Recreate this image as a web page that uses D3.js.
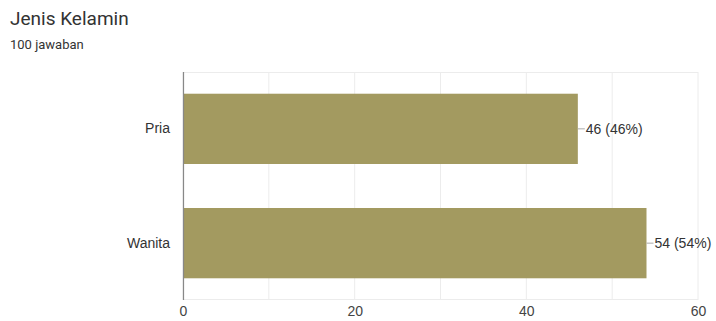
<!DOCTYPE html>
<html><head><meta charset="utf-8">
<script src="https://cdn.jsdelivr.net/npm/d3@7"></script>
<style>body{margin:0;background:#fff;font-family:Roboto,Arial,sans-serif;}</style>
</head><body>
<svg id="c" width="716" height="321"></svg>
<script>
const categories = ["Pria", "Wanita"];
const values = [46, 54];
const percents = ["46%", "54%"];
const xTicks = [0, 20, 40, 60];
const gridTicks = [0, 10, 20, 30, 40, 50, 60];

const LF = "'Liberation Sans',Arial,sans-serif";
const svg = d3.select("#c");
const m = {l: 183, r: 18, t: 72, b: 21};
const W = 716, H = 321;
const x = d3.scaleLinear().domain([0, 60]).range([m.l, W - m.r]);
const y = d3.scaleBand().domain(categories).range([m.t, H - m.b]).paddingInner(0.385).paddingOuter(0.19);

svg.append("text").attr("x", 10).attr("y", 25).attr("font-size", 19).attr("fill", "#333").text("Jenis Kelamin");
svg.append("text").attr("x", 10).attr("y", 49).attr("font-size", 13).attr("fill", "#333").text("100 jawaban");

// grid
svg.append("g").selectAll("line").data(gridTicks).join("line")
  .attr("x1", d => x(d)).attr("x2", d => x(d)).attr("y1", m.t).attr("y2", H - m.b)
  .attr("stroke", "#ececec").attr("stroke-width", 1);
svg.append("line").attr("x1", m.l).attr("x2", W - m.r).attr("y1", m.t + 0.5).attr("y2", m.t + 0.5).attr("stroke", "#ececec");
svg.append("line").attr("x1", m.l).attr("x2", W - m.r).attr("y1", H - m.b - 0.5).attr("y2", H - m.b - 0.5).attr("stroke", "#ececec");

// x axis labels
const xAxis = d3.axisBottom(x).tickValues(xTicks).tickSize(0).tickPadding(6);
const gx = svg.append("g").attr("transform", `translate(0,${H - m.b})`).call(xAxis);
gx.select(".domain").remove();
gx.selectAll("text").attr("font-size", 14).attr("fill", "#444").attr("font-family", LF);

// bars
svg.append("g").selectAll("rect").data(values).join("rect")
  .attr("x", x(0)).attr("y", (d, i) => y(categories[i]))
  .attr("width", d => x(d) - x(0)).attr("height", y.bandwidth())
  .attr("fill", "#a39a60");

// y axis
const yAxis = d3.axisLeft(y).tickSize(0).tickPadding(13);
const gy = svg.append("g").attr("transform", `translate(${m.l},0)`).call(yAxis);
gy.select(".domain").remove();
gy.selectAll("text").attr("font-size", 14).attr("fill", "#333").attr("font-family", LF);
svg.append("line").attr("x1", m.l + 0.5).attr("x2", m.l + 0.5).attr("y1", m.t).attr("y2", H - m.b).attr("stroke", "#888").attr("stroke-width", 1.2);

// value labels
const lg = svg.append("g");
values.forEach((v, i) => {
  const cy = y(categories[i]) + y.bandwidth() / 2;
  lg.append("line").attr("x1", x(v)).attr("x2", x(v) + 7).attr("y1", cy).attr("y2", cy).attr("stroke", "#aaa");
  lg.append("text").attr("x", x(v) + 8).attr("y", cy).attr("dy", "0.35em").attr("font-size", 14).attr("fill", "#333")
    .attr("font-family", LF).text(`${v} (${percents[i]})`);
});
</script>
</body></html>
